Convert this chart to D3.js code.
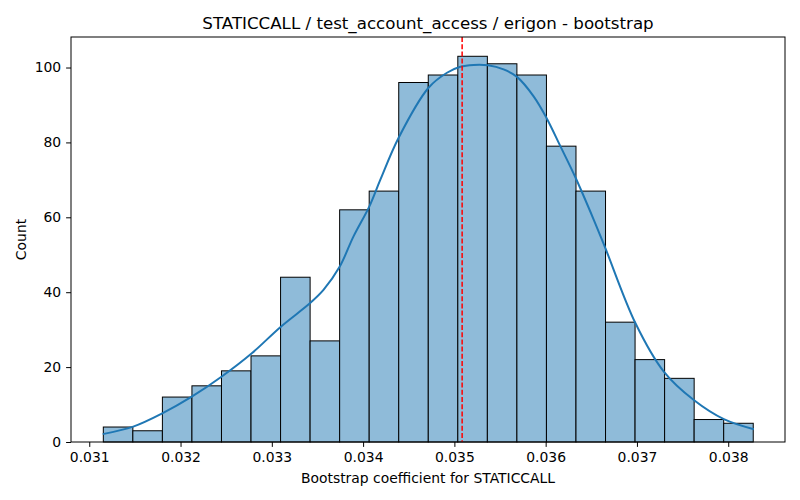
<!DOCTYPE html>
<html>
<head>
<meta charset="utf-8">
<script src="https://cdn.jsdelivr.net/npm/d3@7"></script>
<style>
  body { margin: 0; background: #fff; }
  svg { font-family: "DejaVu Sans", sans-serif; }
</style>
</head>
<body>
<svg id="chart" width="800" height="500"></svg>
<script>
// Histogram bins
const binStart = 0.031154;
const binEnd = 0.038274;
const counts = [4, 3, 12, 15, 19, 23, 44, 27, 62, 67, 96, 98, 103, 101, 98, 79, 67, 32, 22, 17, 6, 5];

// KDE curve points [value, count]
const kdeX = [0.031147, 0.031482, 0.031805, 0.032123, 0.032452, 0.032781, 0.033099, 0.033420, 0.033566, 0.033741, 0.033895, 0.034070, 0.034188, 0.034388, 0.034717, 0.034919, 0.035065, 0.035211, 0.035368, 0.035539, 0.035686, 0.035868, 0.036008, 0.036161, 0.036329, 0.036526, 0.036655, 0.036984, 0.037294, 0.037623, 0.037952, 0.038281];
const kdeY = [2.1, 4.1, 7.7, 12.1, 17.5, 23.7, 30.8, 37.1, 40.6, 46.7, 54.9, 63.0, 70.0, 81.2, 94.6, 98.6, 100.2, 100.7, 100.6, 99.5, 97.5, 92.3, 86.6, 79.0, 70.5, 59.4, 51.7, 31.7, 18.8, 11.2, 6.1, 3.4];

const meanValue = 0.035085;
const xTicks = [0.031, 0.032, 0.033, 0.034, 0.035, 0.036, 0.037, 0.038];
const yTicks = [0, 20, 40, 60, 80, 100];

const title = "STATICCALL / test_account_access / erigon - bootstrap";
const xLabel = "Bootstrap coefficient for STATICCALL";
const yLabel = "Count";

const svg = d3.select("#chart");
const mLeft = 71, mRight = 785, mTop = 37, mBottom = 442;

const x = d3.scaleLinear().domain([0.0308, 0.038622]).range([mLeft, mRight]);
const y = d3.scaleLinear().domain([0, 108.15]).range([mBottom, mTop]);

const binW = (binEnd - binStart) / counts.length;
const bins = counts.map((c, i) => ({ x0: binStart + i * binW, x1: binStart + (i + 1) * binW, c }));

svg.append("g").selectAll("rect").data(bins).enter().append("rect")
  .attr("x", d => x(d.x0))
  .attr("y", d => y(d.c))
  .attr("width", d => x(d.x1) - x(d.x0))
  .attr("height", d => y(0) - y(d.c))
  .attr("fill", "#8fbbd9")
  .attr("stroke", "#000")
  .attr("stroke-width", 1);

const kde = kdeX.map((v, i) => [v, kdeY[i]]);
svg.append("path")
  .datum(kde)
  .attr("fill", "none")
  .attr("stroke", "#1f77b4")
  .attr("stroke-width", 2)
  .attr("d", d3.line().x(d => x(d[0])).y(d => y(d[1])).curve(d3.curveCatmullRom.alpha(0.5)));

svg.append("line")
  .attr("x1", x(meanValue)).attr("x2", x(meanValue))
  .attr("y1", mTop).attr("y2", mBottom)
  .attr("stroke", "#ff0000")
  .attr("stroke-width", 1.5)
  .attr("stroke-dasharray", "5,2.2");

// Axes
const xAxis = d3.axisBottom(x).tickValues(xTicks).tickFormat(d3.format(".3f")).tickSize(4.9).tickPadding(4.9);
const yAxis = d3.axisLeft(y).tickValues(yTicks).tickFormat(d3.format("d")).tickSize(4.9).tickPadding(4.9);

const gx = svg.append("g").attr("transform", `translate(0,${mBottom})`).call(xAxis);
const gy = svg.append("g").attr("transform", `translate(${mLeft},0)`).call(yAxis);
[gx, gy].forEach(g => {
  g.select(".domain").remove();
  g.selectAll("text").attr("font-size", 13.9).attr("fill", "#000").attr("font-family", "DejaVu Sans");
  g.selectAll("line").attr("stroke", "#000");
});

svg.append("rect")
  .attr("x", mLeft).attr("y", mTop)
  .attr("width", mRight - mLeft).attr("height", mBottom - mTop)
  .attr("fill", "none").attr("stroke", "#000").attr("stroke-width", 1);

svg.append("text")
  .attr("x", (mLeft + mRight) / 2).attr("y", 29)
  .attr("text-anchor", "middle").attr("font-size", 16.67)
  .text(title);

svg.append("text")
  .attr("x", (mLeft + mRight) / 2).attr("y", 483)
  .attr("text-anchor", "middle").attr("font-size", 13.9)
  .text(xLabel);

svg.append("text")
  .attr("transform", `translate(26,${(mTop + mBottom) / 2}) rotate(-90)`)
  .attr("text-anchor", "middle").attr("font-size", 13.9)
  .text(yLabel);
</script>
</body>
</html>
